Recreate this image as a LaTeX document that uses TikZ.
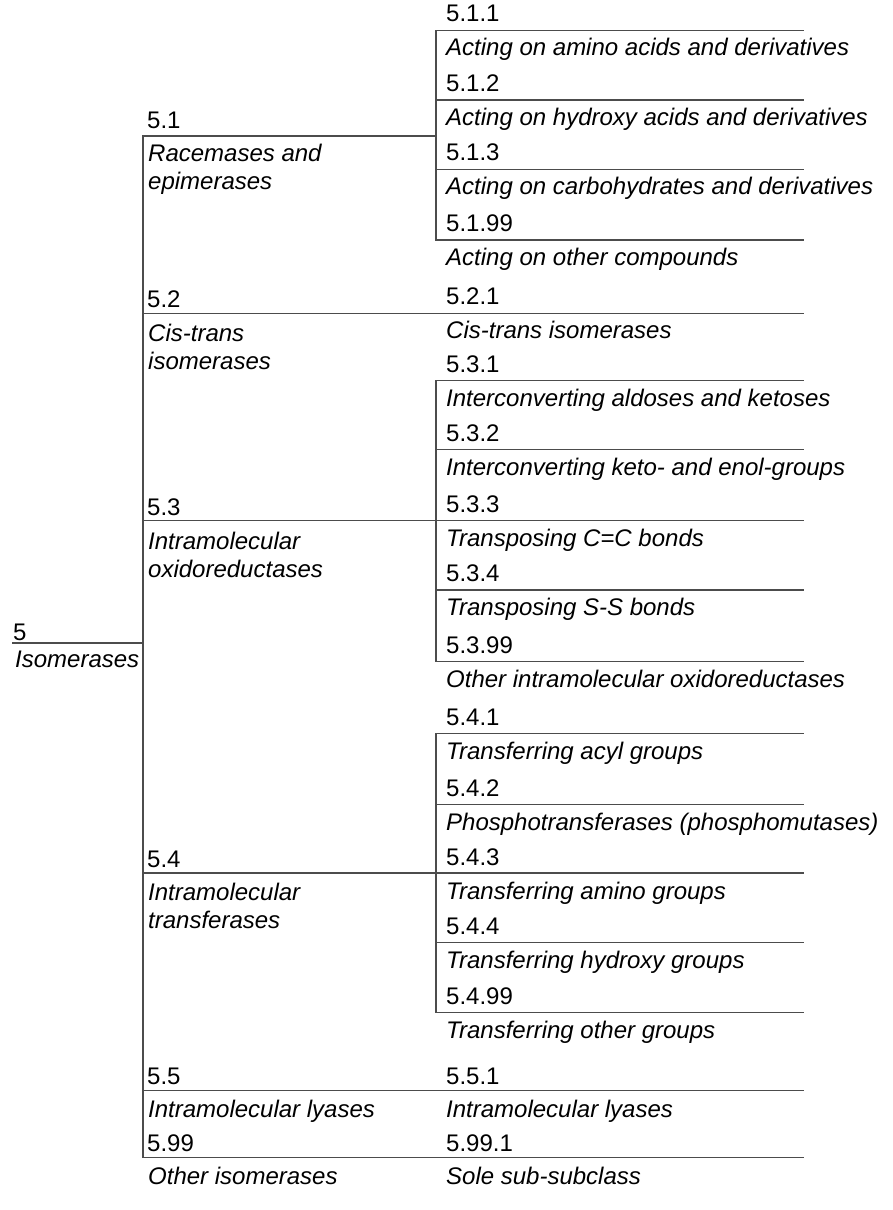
\documentclass[tikz,border=0pt]{standalone}
\usepackage{fontspec}
\setmainfont{Liberation Sans}
\begin{document}
\begin{tikzpicture}[x=1pt,y=-1pt,
  lab/.style={anchor=base west, inner sep=0pt, text=black, font=\fontsize{24}{28}\selectfont},
  nm/.style={lab, font=\fontsize{24}{28}\selectfont\itshape},
  edge/.style={draw=black!70, line width=1.4pt, line cap=rect}]
\useasboundingbox (0,0) rectangle (892,1210);
\newcommand{\twoline}[2]{\vtop{\baselineskip=28.5pt\hbox{#1}\hbox{#2}}}
% ---------- coordinates of tree ----------
\coordinate (r0) at (13,643);
\coordinate (r1) at (143,643);
\coordinate (vtop) at (143,136);
\coordinate (vbot) at (143,1157.3);
% subclass junctions
\coordinate (s1) at (143,136);   \coordinate (s1e) at (436,136);
\coordinate (s2) at (143,313.3); \coordinate (s2e) at (803,313.3);
\coordinate (s3) at (143,520.7); \coordinate (s3e) at (436,520.7);
\coordinate (s4) at (143,873);   \coordinate (s4e) at (436,873);
\coordinate (s5) at (143,1090.7);\coordinate (s5e) at (803,1090.7);
\coordinate (s9) at (143,1157.3);\coordinate (s9e) at (803,1157.3);
% sub-subclass lines 5.1
\coordinate (a1) at (436,30.7);  \coordinate (a1e) at (803,30.7);
\coordinate (a2) at (436,100);   \coordinate (a2e) at (803,100);
\coordinate (a3) at (436,169.3); \coordinate (a3e) at (803,169.3);
\coordinate (a9) at (436,240);   \coordinate (a9e) at (803,240);
% 5.3
\coordinate (b1) at (436,380.7); \coordinate (b1e) at (803,380.7);
\coordinate (b2) at (436,449.3); \coordinate (b2e) at (803,449.3);
\coordinate (b3) at (436,520.7); \coordinate (b3e) at (803,520.7);
\coordinate (b4) at (436,590);   \coordinate (b4e) at (803,590);
\coordinate (b9) at (436,661.7); \coordinate (b9e) at (803,661.7);
% 5.4
\coordinate (c1) at (436,733.3); \coordinate (c1e) at (803,733.3);
\coordinate (c2) at (436,804.3); \coordinate (c2e) at (803,804.3);
\coordinate (c3) at (436,873);   \coordinate (c3e) at (803,873);
\coordinate (c4) at (436,942.7); \coordinate (c4e) at (803,942.7);
\coordinate (c9) at (436,1012.7);\coordinate (c9e) at (803,1012.7);
% ---------- connectors ----------
\draw[edge] (r0) -- (r1);
\draw[edge] (vtop) -- (vbot);
\draw[edge] (s1) -- (s1e);
\draw[edge] (s2) -- (s2e);
\draw[edge] (s3) -- (s3e);
\draw[edge] (s4) -- (s4e);
\draw[edge] (s5) -- (s5e);
\draw[edge] (s9) -- (s9e);
\draw[edge] (a1) -- (a9);
\draw[edge] (a1) -- (a1e);
\draw[edge] (a2) -- (a2e);
\draw[edge] (a3) -- (a3e);
\draw[edge] (a9) -- (a9e);
\draw[edge] (b1) -- (b9);
\draw[edge] (b1) -- (b1e);
\draw[edge] (b2) -- (b2e);
\draw[edge] (b3) -- (b3e);
\draw[edge] (b4) -- (b4e);
\draw[edge] (b9) -- (b9e);
\draw[edge] (c1) -- (c9);
\draw[edge] (c1) -- (c1e);
\draw[edge] (c2) -- (c2e);
\draw[edge] (c3) -- (c3e);
\draw[edge] (c4) -- (c4e);
\draw[edge] (c9) -- (c9e);
% ---------- root ----------
\node[lab] (n5) at (13,640) {5};
\node[nm] (t5) at (15,667) {Isomerases};
% ---------- subclasses ----------
\node[lab] (n51) at (147,128) {5.1};
\node[nm]  (t51) at (148,161) {\twoline{Racemases and}{epimerases}};
\node[lab] (n52) at (147,307) {5.2};
\node[nm]  (t52) at (148,341) {\twoline{Cis-trans}{isomerases}};
\node[lab] (n53) at (147,515) {5.3};
\node[nm]  (t53) at (148,549) {\twoline{Intramolecular}{oxidoreductases}};
\node[lab] (n54) at (147,867) {5.4};
\node[nm]  (t54) at (148,900) {\twoline{Intramolecular}{transferases}};
\node[lab] (n55) at (147,1084) {5.5};
\node[nm]  (t55) at (148,1117) {Intramolecular lyases};
\node[lab] (n599) at (147,1151) {5.99};
\node[nm]  (t599) at (148,1184) {Other isomerases};
% ---------- sub-subclasses ----------
\node[lab] (n511) at (446,21.5) {5.1.1};
\node[nm]  (t511) at (446,55.5) {Acting on amino acids and derivatives};
\node[lab] (n512) at (446,91) {5.1.2};
\node[nm]  (t512) at (446,125) {Acting on hydroxy acids and derivatives};
\node[lab] (n513) at (446,160) {5.1.3};
\node[nm]  (t513) at (446,194) {Acting on carbohydrates and derivatives};
\node[lab] (n5199) at (446,231) {5.1.99};
\node[nm]  (t5199) at (446,265) {Acting on other compounds};
\node[lab] (n521) at (446,304) {5.2.1};
\node[nm]  (t521) at (446,338) {Cis-trans isomerases};
\node[lab] (n531) at (446,372) {5.3.1};
\node[nm]  (t531) at (446,406) {Interconverting aldoses and ketoses};
\node[lab] (n532) at (446,441) {5.3.2};
\node[nm]  (t532) at (446,475) {Interconverting keto- and enol-groups};
\node[lab] (n533) at (446,512) {5.3.3};
\node[nm]  (t533) at (446,546) {Transposing C=C bonds};
\node[lab] (n534) at (446,581) {5.3.4};
\node[nm]  (t534) at (446,615) {Transposing S-S bonds};
\node[lab] (n5399) at (446,653) {5.3.99};
\node[nm]  (t5399) at (446,687) {Other intramolecular oxidoreductases};
\node[lab] (n541) at (446,725) {5.4.1};
\node[nm]  (t541) at (446,759) {Transferring acyl groups};
\node[lab] (n542) at (446,796) {5.4.2};
\node[nm]  (t542) at (446,830) {Phosphotransferases (phosphomutases)};
\node[lab] (n543) at (446,865) {5.4.3};
\node[nm]  (t543) at (446,899) {Transferring amino groups};
\node[lab] (n544) at (446,934) {5.4.4};
\node[nm]  (t544) at (446,968) {Transferring hydroxy groups};
\node[lab] (n5499) at (446,1004) {5.4.99};
\node[nm]  (t5499) at (446,1038) {Transferring other groups};
\node[lab] (n551) at (446,1084) {5.5.1};
\node[nm]  (t551) at (446,1117) {Intramolecular lyases};
\node[lab] (n5991) at (446,1151) {5.99.1};
\node[nm]  (t5991) at (446,1184) {Sole sub-subclass};
\end{tikzpicture}
\end{document}
